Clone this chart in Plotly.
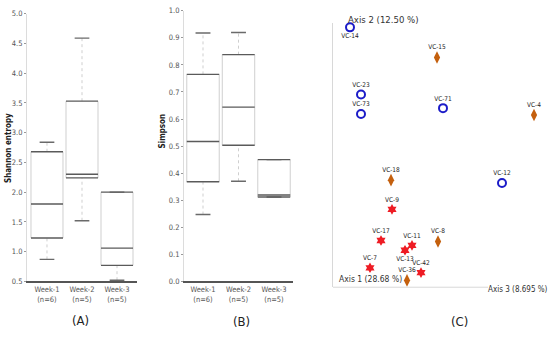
import plotly.graph_objects as go

W, H = 550, 337

# ---------------- data ----------------
weeks = ["Week-1", "Week-2", "Week-3"]
n_labels = ["(n=6)", "(n=5)", "(n=5)"]

shannon_min = [0.87, 1.52, 0.52]
shannon_q1 = [1.23, 2.24, 0.77]
shannon_med = [1.80, 2.30, 1.06]
shannon_q3 = [2.68, 3.53, 2.00]
shannon_max = [2.84, 4.59, 2.00]

simpson_min = [0.247, 0.37, 0.312]
simpson_q1 = [0.368, 0.503, 0.312]
simpson_med = [0.517, 0.644, 0.319]
simpson_q3 = [0.765, 0.838, 0.45]
simpson_max = [0.918, 0.92, 0.45]

samples = ["VC-14", "VC-15", "VC-23", "VC-73", "VC-71", "VC-4", "VC-18", "VC-12",
           "VC-9", "VC-17", "VC-11", "VC-13", "VC-8", "VC-7", "VC-42", "VC-36"]
groups = ["Week-1", "Week-2", "Week-1", "Week-1", "Week-1", "Week-2", "Week-2", "Week-1",
          "Week-3", "Week-3", "Week-3", "Week-3", "Week-2", "Week-3", "Week-3", "Week-2"]
pco_x = [17, 104, 28, 28, 110, 201, 58, 169, 59, 48, 79, 72, 105, 37, 88, 74]
pco_y = [267, 236, 198, 178, 184, 177, 110, 107, 80, 48, 43, 38, 47, 20, 15, 7]
label_below = ["VC-14", "VC-13"]

# ---------------- styles ----------------
FONT = "DejaVu Sans Condensed, Liberation Sans, Arial, sans-serif"
LIGHT = "#cfcfcf"
DARK = "#5a5a5a"
BW = 0.457   # box half-width
CW = 0.21    # cap half-width


def px_x(p):
    return p / W


def px_y(p):
    return 1 - p / H


fig = go.Figure()


def add_boxes(q1, med, q3, lo, hi, xa, ya):
    sx, sy, hx, hy, cx, cy, wx, wy = [], [], [], [], [], [], [], []
    for i in range(len(q1)):
        sx += [i - BW, i - BW, None, i + BW, i + BW, None]
        sy += [q1[i], q3[i], None, q1[i], q3[i], None]
        for v in (q1[i], med[i], q3[i]):
            hx += [i - BW, i + BW, None]
            hy += [v, v, None]
        for v in (lo[i], hi[i]):
            cx += [i - CW, i + CW, None]
            cy += [v, v, None]
        wx += [i, i, None, i, i, None]
        wy += [q3[i], hi[i], None, lo[i], q1[i], None]
    common = dict(xaxis=xa, yaxis=ya, mode="lines", hoverinfo="skip", showlegend=False)
    fig.add_trace(go.Scatter(x=wx, y=wy, line=dict(color=LIGHT, width=1, dash="dot"), **common))
    fig.add_trace(go.Scatter(x=sx, y=sy, line=dict(color=LIGHT, width=1), **common))
    fig.add_trace(go.Scatter(x=cx, y=cy, line=dict(color="#6a6a6a", width=1.4), **common))
    fig.add_trace(go.Scatter(x=hx, y=hy, line=dict(color=DARK, width=1.4), **common))


add_boxes(shannon_q1, shannon_med, shannon_q3, shannon_min, shannon_max, "x", "y")
add_boxes(simpson_q1, simpson_med, simpson_q3, simpson_min, simpson_max, "x2", "y2")

# PCoA scatter
styles = {
    "Week-1": dict(symbol="circle-open", color="#1c1cc8", size=8, line=dict(width=2, color="#1c1cc8")),
    "Week-2": dict(symbol="diamond-tall", color="#c4600e", size=9),
    "Week-3": dict(symbol="hexagram", color="#ee1c24", size=8),
}
for g in ["Week-1", "Week-2", "Week-3"]:
    for pos in ["top center", "bottom center"]:
        idx = [k for k in range(len(samples)) if groups[k] == g and
               ((samples[k] in label_below) == (pos == "bottom center"))]
        if not idx:
            continue
        fig.add_trace(go.Scatter(
            x=[pco_x[k] for k in idx], y=[pco_y[k] for k in idx],
            text=[samples[k] for k in idx], mode="markers+text",
            textposition=pos, textfont=dict(size=6.5, color="#222", family=FONT),
            marker=styles[g], xaxis="x3", yaxis="y3", cliponaxis=False,
            showlegend=False, hoverinfo="text"))

tick_text = [f"{w}<br>{n}" for w, n in zip(weeks, n_labels)]
xcommon = dict(tickmode="array", tickvals=[0, 1, 2], ticktext=tick_text,
               showgrid=False, zeroline=False, showline=True, linecolor="#555",
               linewidth=1.5, ticks="", tickfont=dict(size=7.5, color="#555", family=FONT),
               fixedrange=True)
ycommon = dict(showgrid=False, zeroline=False, showline=True, linecolor="#dcdcdc",
               linewidth=1, ticks="outside", ticklen=2, tickcolor="#999",
               tickfont=dict(size=7.5, color="#555", family=FONT), fixedrange=True)

fig.update_layout(
    width=W, height=H, margin=dict(l=0, r=0, t=0, b=0),
    paper_bgcolor="white", plot_bgcolor="white",
    font=dict(family=FONT, color="#333"),
    xaxis=dict(domain=[px_x(27), px_x(137)], range=[-0.571, 2.571], anchor="y", **xcommon),
    yaxis=dict(domain=[px_y(285), px_y(10)], range=[0.5, 5.0], anchor="x",
               tickvals=[0.5, 1, 1.5, 2, 2.5, 3, 3.5, 4, 4.5, 5], tickformat=".1f", **ycommon),
    xaxis2=dict(domain=[px_x(184), px_x(293)], range=[-0.535, 2.535], anchor="y2", **xcommon),
    yaxis2=dict(domain=[px_y(285), px_y(7)], range=[0, 1.0], anchor="x2",
                tickvals=[0, .1, .2, .3, .4, .5, .6, .7, .8, .9, 1.0], tickformat=".1f", **ycommon),
    xaxis3=dict(domain=[px_x(333), px_x(548)], range=[0, 215], anchor="y3",
                showgrid=False, zeroline=False, showline=False,
                showticklabels=False, ticks="", fixedrange=True),
    yaxis3=dict(domain=[px_y(291), px_y(20)], range=[0, 271], anchor="x3",
                showgrid=False, zeroline=False, showline=True, linecolor="#d8d8d8",
                showticklabels=False, ticks="", fixedrange=True),
)

# Axis-1 baseline of the ordination (shorter than the plot width)
fig.add_shape(type="line", xref="x3", yref="y3 domain", x0=0, x1=155, y0=0, y1=0,
              line=dict(color="#d8d8d8", width=1))

ann = [
    dict(text="<b>Shannon entropy</b>", x=px_x(8), y=px_y(148), textangle=-90,
         font=dict(size=8, color="#222")),
    dict(text="<b>Simpson</b>", x=px_x(163), y=px_y(131), textangle=-90,
         font=dict(size=8, color="#222")),
    dict(text="(A)", x=px_x(80), y=px_y(325), font=dict(size=13, color="#222")),
    dict(text="(B)", x=px_x(241), y=px_y(326), font=dict(size=13, color="#222")),
    dict(text="(C)", x=px_x(459), y=px_y(326), font=dict(size=13, color="#222")),
    dict(text="Axis 2 (12.50 %)", x=px_x(383), y=px_y(16), font=dict(size=9.5, color="#333")),
    dict(text="Axis 1 (28.68 %)", x=px_x(370), y=px_y(283), font=dict(size=8.5, color="#333")),
    dict(text="Axis 3 (8.695 %)", x=px_x(518), y=px_y(293), font=dict(size=8, color="#333")),
]
for a in ann:
    fig.add_annotation(xref="paper", yref="paper", showarrow=False,
                       xanchor="center", yanchor="middle", **a)

fig.write_html("out.html", config={"displayModeBar": False},
               post_script="document.body.style.margin='0px';")
